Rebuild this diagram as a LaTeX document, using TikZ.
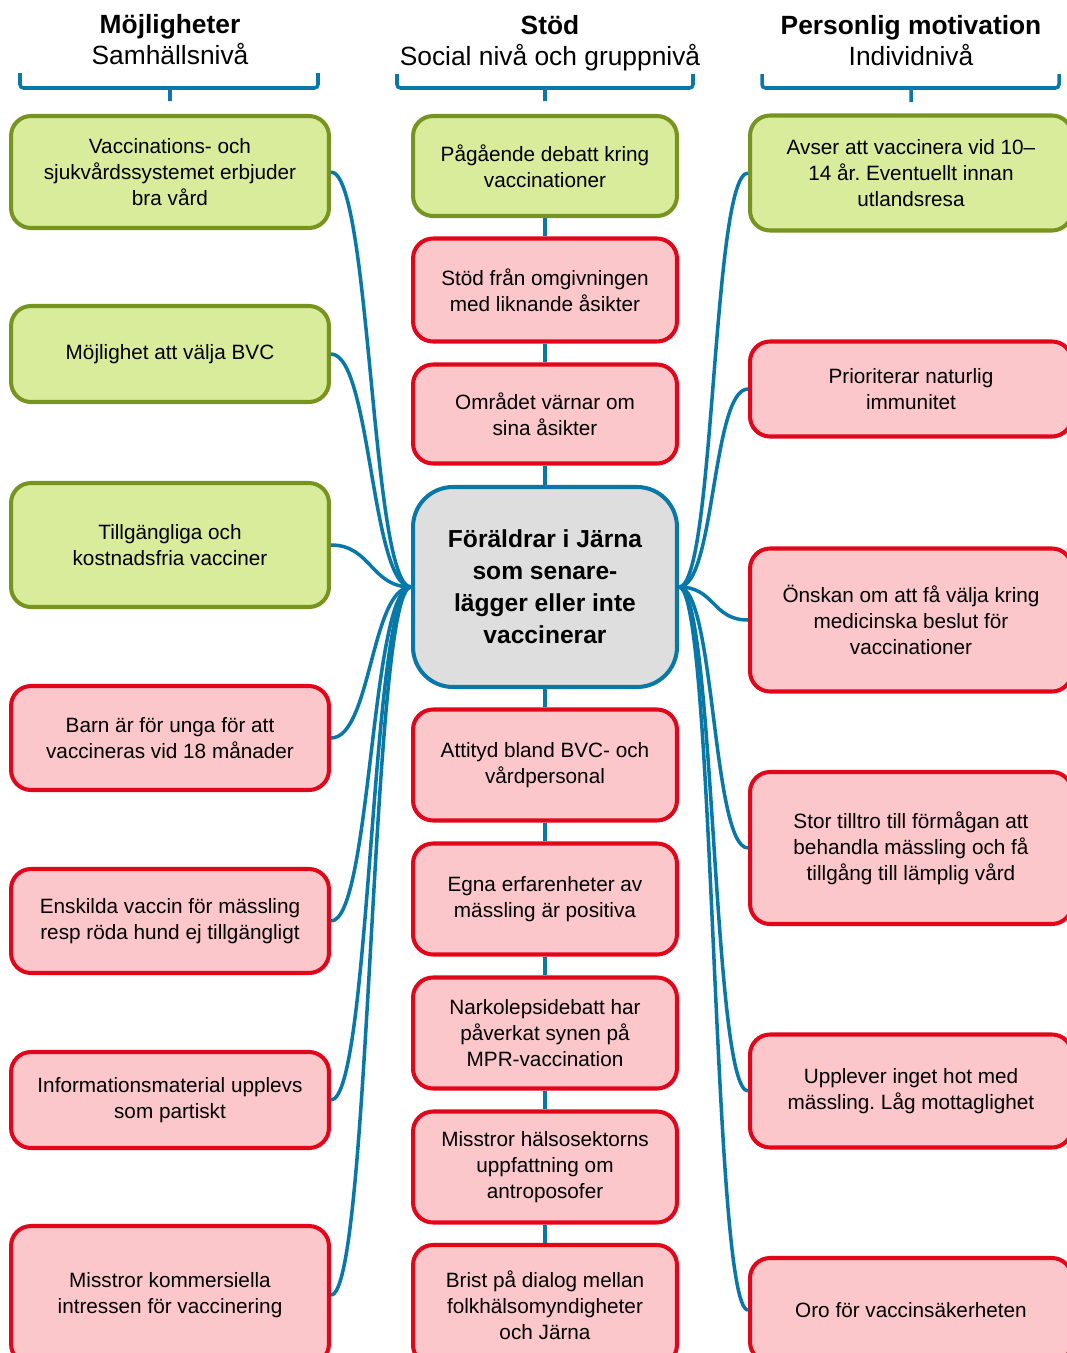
\documentclass[tikz,border=0pt]{standalone}
\usepackage{fontspec}
\setmainfont{Liberation Sans}
\frenchspacing
\definecolor{gfill}{HTML}{D8EC9C}
\definecolor{gline}{HTML}{77941F}
\definecolor{rfill}{HTML}{FCC7CB}
\definecolor{rline}{HTML}{E2061A}
\definecolor{cfill}{HTML}{DEDEDE}
\definecolor{linkblue}{HTML}{0878A8}

\tikzset{
  card/.style={draw, line width=2.3pt, rounded corners=0.4cm, align=center, inner sep=0pt,
    font=\fontsize{11.8}{14.8}\selectfont},
  greenbox/.style={card, fill=gfill, draw=gline},
  redbox/.style={card, fill=rfill, draw=rline},
  hubbox/.style={card, fill=cfill, draw=linkblue, rounded corners=0.8cm,
    font=\fontsize{14}{18.2}\selectfont\bfseries},
  head/.style={align=center, font=\fontsize{15}{17.6}\selectfont},
  link/.style={draw=linkblue, line width=2pt},
  lcol/.style={minimum width=6.36cm},
  ccol/.style={minimum width=5.28cm},
  rcol/.style={minimum width=6.44cm},
  ht/.style={minimum height=#1*0.02cm}
}

\begin{document}
\begin{tikzpicture}[x=0.02cm, y=-0.02cm]
\useasboundingbox (0,0) rectangle (1067,1353);

\node[head] (hl) at (170,40) {\textbf{Möjligheter}\\Samhällsnivå};
\node[head] (hc) at (550,43) {\textbf{Stöd}\\Social nivå och gruppnivå};
\node[head] (hr) at (911,41) {\textbf{Personlig motivation}\\Individnivå};

\draw[link, rounded corners=2pt] (20,73) -- (20,88) -- (318,88) -- (318,73) (170,88) -- (170,101);
\draw[link, rounded corners=2pt] (397,74) -- (397,88) -- (693,88) -- (693,74) (545,88) -- (545,101);
\draw[link, rounded corners=2pt] (762,74) -- (762,88) -- (1059,88) -- (1059,74) (911,88) -- (911,102);

\node[greenbox, lcol, ht=112] (l1) at (170,172) {Vaccinations- och\\sjukvårdssystemet erbjuder\\bra vård};
\node[greenbox, lcol, ht=96] (l2) at (170,354) {Möjlighet att välja BVC};
\node[greenbox, lcol, ht=124] (l3) at (170,545) {Tillgängliga och\\kostnadsfria vacciner};
\node[redbox, lcol, ht=104] (l4) at (170,738) {Barn är för unga för att\\vaccineras vid 18 månader};
\node[redbox, lcol, ht=104] (l5) at (170,921) {Enskilda vaccin för mässling\\resp röda hund ej tillgängligt};
\node[redbox, lcol, ht=96] (l6) at (170,1100) {Informationsmaterial upplevs\\som partiskt};
\node[redbox, lcol, ht=138] (l7) at (170,1295) {Misstror kommersiella\\intressen för vaccinering};

\node[greenbox, ccol, ht=100] (c1) at (545,166) {Pågående debatt kring\\vaccinationer};
\node[redbox, ccol, ht=103] (c2) at (545,290) {Stöd från omgivningen\\med liknande åsikter};
\node[redbox, ccol, ht=99] (c3) at (545,414) {Området värnar om\\sina åsikter};
\node[hubbox, ccol, ht=200] (cm) at (545,587) {Föräldrar i Järna\\som senare-\\lägger eller inte\\vaccinerar};
\node[redbox, ccol, ht=111] (c5) at (545,765) {Attityd bland BVC- och\\vårdpersonal};
\node[redbox, ccol, ht=111] (c6) at (545,899) {Egna erfarenheter av\\mässling är positiva};
\node[redbox, ccol, ht=111] (c7) at (545,1033) {Narkolepsidebatt har\\påverkat synen på\\MPR-vaccination};
\node[redbox, ccol, ht=111] (c8) at (545,1167) {Misstror hälsosektorns\\uppfattning om\\antroposofer};
\node[redbox, ccol, ht=120] (c9) at (545,1305) {Brist på dialog mellan\\folkhälsomyndigheter\\och Järna};

\node[greenbox, rcol, ht=115] (r1) at (911,173) {Avser att vaccinera vid 10–\\14 år. Eventuellt innan\\utlandsresa};
\node[redbox, rcol, ht=95] (r2) at (911,389) {Prioriterar naturlig\\immunitet};
\node[redbox, rcol, ht=143] (r3) at (911,620) {Önskan om att få välja kring\\medicinska beslut för\\vaccinationer};
\node[redbox, rcol, ht=152] (r4) at (911,848) {Stor tilltro till förmågan att\\behandla mässling och få\\tillgång till lämplig vård};
\node[redbox, rcol, ht=113] (r5) at (911,1091) {Upplever inget hot med\\mässling. Låg mottaglighet};
\node[redbox, rcol, ht=104] (r6) at (911,1310) {Oro för vaccinsäkerheten};

\foreach \a/\b in {c1/c2, c2/c3, c3/cm, cm/c5, c5/c6, c6/c7, c7/c8, c8/c9}
  \draw[link] (\a.south) -- (\b.north);
\foreach \n in {l1,l2,l3,l4,l5,l6,l7}
  \draw[link] (\n.east) .. controls +(40,0) and +(-40,0) .. (cm.west);
\foreach \n in {r1,r2,r3,r4,r5,r6}
  \draw[link] (\n.west) .. controls +(-36,0) and +(36,0) .. (cm.east);
\end{tikzpicture}
\end{document}
